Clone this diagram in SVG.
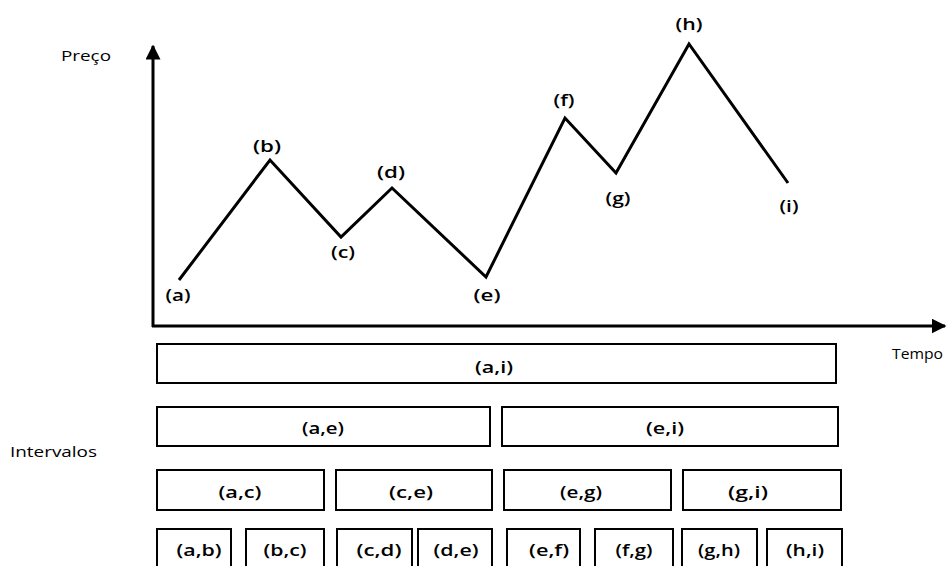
<svg xmlns="http://www.w3.org/2000/svg" width="948" height="566" viewBox="0 0 948 566">
<style>
text{font-family:"Open Sans","Lato","Liberation Sans",sans-serif;fill:#000}
.pt{font-size:16px;font-weight:600;text-anchor:middle;dominant-baseline:central}
.ax{font-size:14px;dominant-baseline:central}
.box rect{fill:#fff;stroke:#000;stroke-width:2}
.box text{font-size:17px;font-weight:600;text-anchor:middle;dominant-baseline:central}
.line{fill:none;stroke:#000;stroke-width:3}
</style>
<defs>
<marker id="arr" viewBox="0 0 10 10" refX="9" refY="5" markerWidth="5" markerHeight="5" markerUnits="strokeWidth" orient="auto">
<path d="M0,0 L10,5 L0,10 Z" fill="#000"/>
</marker>
</defs>
<g id="connectors">
<line class="line" x1="153" y1="327" x2="153" y2="46" marker-end="url(#arr)"/>
<line class="line" x1="152" y1="326" x2="945" y2="326" marker-end="url(#arr)"/>
<polyline class="line" points="179,280 270,160 341,237 392,188 486,277 565,118 616,173 689,44 788,183"/>
</g>
<g id="axis-labels">
<text class="ax" x="61" y="55" textLength="50" lengthAdjust="spacingAndGlyphs">Preço</text>
<text class="ax" x="892" y="353" textLength="51" lengthAdjust="spacingAndGlyphs">Tempo</text>
<text class="ax" x="10" y="451" textLength="87" lengthAdjust="spacingAndGlyphs">Intervalos</text>
</g>
<g id="points">
<text class="pt" x="178" y="295" textLength="25" lengthAdjust="spacingAndGlyphs">(a)</text>
<text class="pt" x="267" y="146" textLength="28" lengthAdjust="spacingAndGlyphs">(b)</text>
<text class="pt" x="343" y="252" textLength="24" lengthAdjust="spacingAndGlyphs">(c)</text>
<text class="pt" x="391" y="172" textLength="28" lengthAdjust="spacingAndGlyphs">(d)</text>
<text class="pt" x="487" y="295" textLength="27" lengthAdjust="spacingAndGlyphs">(e)</text>
<text class="pt" x="564" y="100" textLength="21" lengthAdjust="spacingAndGlyphs">(f)</text>
<text class="pt" x="618" y="198" textLength="25" lengthAdjust="spacingAndGlyphs">(g)</text>
<text class="pt" x="689" y="24" textLength="27" lengthAdjust="spacingAndGlyphs">(h)</text>
<text class="pt" x="789" y="206" textLength="19" lengthAdjust="spacingAndGlyphs">(i)</text>
</g>
<g id="ai" class="box"><rect x="157" y="344" width="679" height="39"/><text x="494" y="366" textLength="38" lengthAdjust="spacingAndGlyphs">(a,i)</text></g>
<g id="ae" class="box"><rect x="157" y="407" width="333" height="39"/><text x="323" y="427" textLength="42" lengthAdjust="spacingAndGlyphs">(a,e)</text></g>
<g id="ei" class="box"><rect x="502" y="407" width="336" height="39"/><text x="665" y="427" textLength="38" lengthAdjust="spacingAndGlyphs">(e,i)</text></g>
<g id="ac" class="box"><rect x="157" y="470" width="167" height="40"/><text x="240" y="491" textLength="43" lengthAdjust="spacingAndGlyphs">(a,c)</text></g>
<g id="ce" class="box"><rect x="336" y="470" width="156" height="40"/><text x="411" y="491" textLength="44" lengthAdjust="spacingAndGlyphs">(c,e)</text></g>
<g id="eg" class="box"><rect x="504" y="470" width="167" height="40"/><text x="581" y="491" textLength="42" lengthAdjust="spacingAndGlyphs">(e,g)</text></g>
<g id="gi" class="box"><rect x="683" y="470" width="158" height="40"/><text x="748" y="491" textLength="40" lengthAdjust="spacingAndGlyphs">(g,i)</text></g>
<g id="ab" class="box"><rect x="157" y="529" width="74" height="45"/><text x="199" y="549" textLength="45" lengthAdjust="spacingAndGlyphs">(a,b)</text></g>
<g id="bc" class="box"><rect x="246" y="529" width="78" height="45"/><text x="285" y="549" textLength="43" lengthAdjust="spacingAndGlyphs">(b,c)</text></g>
<g id="cd" class="box"><rect x="337" y="529" width="75" height="45"/><text x="379" y="549" textLength="45" lengthAdjust="spacingAndGlyphs">(c,d)</text></g>
<g id="de" class="box"><rect x="418" y="529" width="74" height="45"/><text x="456" y="549" textLength="45" lengthAdjust="spacingAndGlyphs">(d,e)</text></g>
<g id="ef" class="box"><rect x="507" y="529" width="73" height="45"/><text x="549" y="549" textLength="40" lengthAdjust="spacingAndGlyphs">(e,f)</text></g>
<g id="fg" class="box"><rect x="595" y="529" width="78" height="45"/><text x="634" y="549" textLength="37" lengthAdjust="spacingAndGlyphs">(f,g)</text></g>
<g id="gh" class="box"><rect x="682" y="529" width="75" height="45"/><text x="719" y="549" textLength="42" lengthAdjust="spacingAndGlyphs">(g,h)</text></g>
<g id="hi" class="box"><rect x="767" y="529" width="75" height="45"/><text x="805" y="549" textLength="38" lengthAdjust="spacingAndGlyphs">(h,i)</text></g>
</svg>
